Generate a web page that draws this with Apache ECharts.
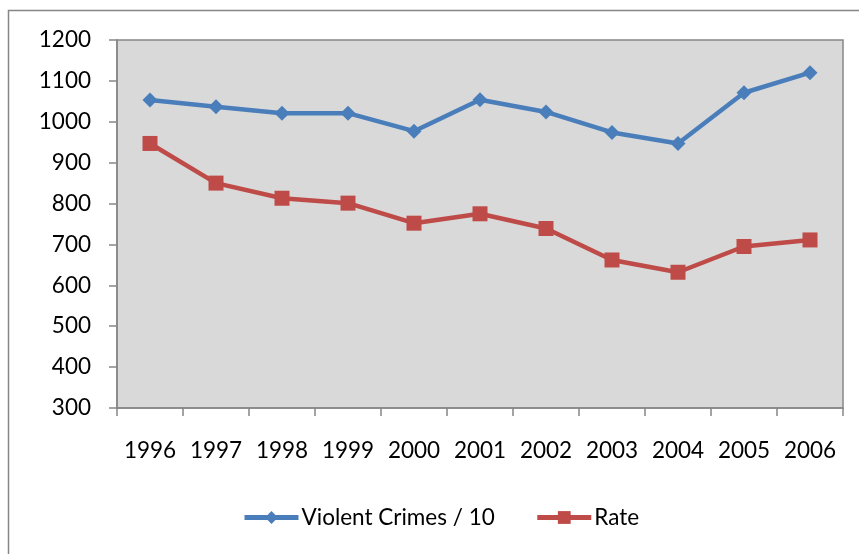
<!DOCTYPE html>
<html>
<head>
<meta charset="utf-8">
<script src="https://cdn.jsdelivr.net/npm/echarts@6/dist/echarts.min.js"></script>
<style>
  html, body { margin: 0; padding: 0; background: #fff; }
  #chart { width: 859px; height: 554px; }
</style>
</head>
<body>
<div id="chart"></div>
<script>
// data
var years = ["1996", "1997", "1998", "1999", "2000", "2001", "2002", "2003", "2004", "2005", "2006"];
var violentCrimes = [1053, 1037, 1021, 1021, 977, 1054, 1024, 974, 947, 1071, 1120];
var rate = [947, 850, 813, 801, 752, 775, 739, 662, 632, 695, 711];

var axisGray = "#868686";
var font = "Lato, 'Open Sans', sans-serif";

var myChart = echarts.init(document.getElementById("chart"));
var option = {
  animation: false,
  graphic: [
    {
      type: "rect",
      shape: { x: 8.5, y: 10.5, width: 900, height: 600 },
      style: { fill: null, stroke: axisGray, lineWidth: 1.5 },
      silent: true,
      z: -1
    }
  ],
  grid: {
    left: 117,
    top: 40,
    right: 16,
    bottom: 146,
    show: true,
    backgroundColor: "#D9D9D9",
    borderColor: axisGray,
    borderWidth: 1.5
  },
  legend: {
    left: 242,
    top: 506,
    padding: 0,
    itemWidth: 54,
    itemHeight: 16,
    itemGap: 40,
    lineStyle: { width: 5 },
    textStyle: { fontFamily: font, fontSize: 22.5, color: "#000", padding: [0, 0, 0, -2] },
    data: ["Violent Crimes / 10", "Rate"]
  },
  xAxis: {
    type: "category",
    data: years,
    boundaryGap: true,
    axisLine: { lineStyle: { color: axisGray, width: 1.5 } },
    axisTick: { show: true, length: 8, lineStyle: { color: axisGray, width: 1.5 } },
    axisLabel: { fontFamily: font, fontSize: 22.5, color: "#000", margin: 31, interval: 0 },
    splitLine: { show: false }
  },
  yAxis: {
    type: "value",
    min: 300,
    max: 1200,
    interval: 100,
    axisLine: { show: true, lineStyle: { color: axisGray, width: 1.5 } },
    axisTick: { show: true, length: 8, lineStyle: { color: axisGray, width: 1.5 } },
    axisLabel: {
      fontFamily: font, fontSize: 22.5, color: "#000", margin: 26,
      formatter: function (v) { return String(v); }
    },
    splitLine: { show: false }
  },
  series: [
    {
      name: "Violent Crimes / 10",
      type: "line",
      data: violentCrimes,
      symbol: "diamond",
      symbolSize: 15,
      lineStyle: { color: "#4A7EBB", width: 4.5 },
      itemStyle: { color: "#4A7EBB" }
    },
    {
      name: "Rate",
      type: "line",
      data: rate,
      symbol: "rect",
      symbolSize: 15,
      lineStyle: { color: "#BE4B48", width: 4.5 },
      itemStyle: { color: "#BE4B48" }
    }
  ]
};
myChart.setOption(option);
</script>
</body>
</html>
